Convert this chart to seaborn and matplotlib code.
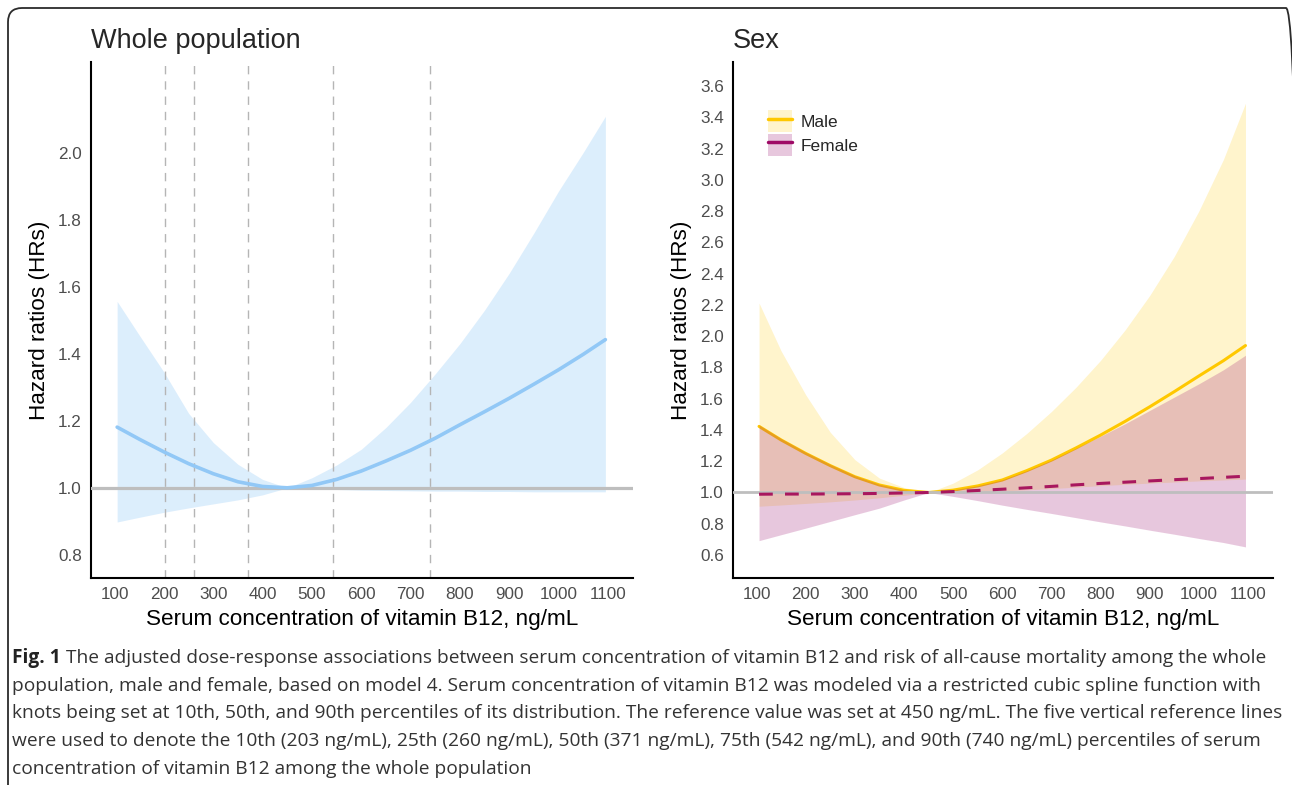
import numpy as np
import pandas as pd
import matplotlib
matplotlib.use("Agg")
import matplotlib.pyplot as plt
import seaborn as sns
from matplotlib.patches import Patch, FancyBboxPatch
from matplotlib.lines import Line2D
from matplotlib.transforms import IdentityTransform

# ----------------------------
# Data
# ----------------------------

b12 = [105, 150, 200, 250, 300, 350, 400, 450, 500, 550, 600,
       650, 700, 750, 800, 850, 900, 950, 1000, 1050, 1095]

# whole population
whole_hr = [1.181, 1.145, 1.107, 1.072, 1.042, 1.018, 1.004, 1.000, 1.007, 1.025, 1.050,
            1.080, 1.112, 1.148, 1.188, 1.227, 1.267, 1.309, 1.352, 1.398, 1.442]
whole_hi = [1.556, 1.455, 1.345, 1.222, 1.135, 1.070, 1.025, 1.000, 1.030, 1.068, 1.115,
            1.180, 1.255, 1.340, 1.430, 1.530, 1.640, 1.760, 1.885, 2.000, 2.108]
whole_lo = [0.898, 0.912, 0.927, 0.940, 0.952, 0.964, 0.979, 1.000, 0.997, 0.995, 0.993,
            0.992, 0.991, 0.990, 0.990, 0.989, 0.989, 0.988, 0.988, 0.988, 0.988]

# male
male_hr = [1.423, 1.336, 1.250, 1.172, 1.101, 1.048, 1.014, 1.000, 1.015, 1.042, 1.080,
           1.140, 1.207, 1.285, 1.367, 1.455, 1.548, 1.645, 1.745, 1.843, 1.940]
male_hi = [2.212, 1.905, 1.625, 1.385, 1.210, 1.092, 1.032, 1.000, 1.060, 1.145, 1.253,
           1.378, 1.518, 1.673, 1.845, 2.040, 2.260, 2.510, 2.800, 3.130, 3.490]
male_lo = [0.912, 0.920, 0.930, 0.940, 0.952, 0.966, 0.982, 1.000, 1.002, 1.005, 1.010,
           1.017, 1.025, 1.034, 1.044, 1.052, 1.060, 1.067, 1.074, 1.080, 1.086]

# female
female_hr = [0.989, 0.990, 0.990, 0.991, 0.992, 0.994, 0.997, 1.000, 1.006, 1.013, 1.021,
             1.030, 1.039, 1.049, 1.058, 1.066, 1.074, 1.082, 1.089, 1.097, 1.104]
female_hi = [1.432, 1.345, 1.258, 1.180, 1.108, 1.053, 1.017, 1.000, 1.017, 1.044, 1.082,
             1.140, 1.207, 1.283, 1.360, 1.440, 1.525, 1.610, 1.695, 1.785, 1.878]
female_lo = [0.692, 0.730, 0.772, 0.815, 0.858, 0.900, 0.952, 1.000, 0.975, 0.948, 0.919,
             0.892, 0.866, 0.839, 0.812, 0.786, 0.759, 0.733, 0.706, 0.680, 0.652]

percentiles = [203, 260, 371, 542, 740]
x_ticks = [100, 200, 300, 400, 500, 600, 700, 800, 900, 1000, 1100]
y_ticks_whole = [0.8, 1.0, 1.2, 1.4, 1.6, 1.8, 2.0]
y_ticks_sex = [0.6, 0.8, 1.0, 1.2, 1.4, 1.6, 1.8, 2.0, 2.2, 2.4, 2.6,
               2.8, 3.0, 3.2, 3.4, 3.6]

caption_lines = [
    " The adjusted dose-response associations between serum concentration of vitamin B12 and risk of all-cause mortality among the whole",
    "population, male and female, based on model 4. Serum concentration of vitamin B12 was modeled via a restricted cubic spline function with",
    "knots being set at 10th, 50th, and 90th percentiles of its distribution. The reference value was set at 450 ng/mL. The five vertical reference lines",
    "were used to denote the 10th (203 ng/mL), 25th (260 ng/mL), 50th (371 ng/mL), 75th (542 ng/mL), and 90th (740 ng/mL) percentiles of serum",
    "concentration of vitamin B12 among the whole population",
]

whole = pd.DataFrame({"b12": b12, "hr": whole_hr, "lo": whole_lo, "hi": whole_hi})
male = pd.DataFrame({"b12": b12, "hr": male_hr, "lo": male_lo, "hi": male_hi})
female = pd.DataFrame({"b12": b12, "hr": female_hr, "lo": female_lo, "hi": female_hi})

# ----------------------------
# Style
# ----------------------------

sns.set_style("white")
plt.rcParams["font.family"] = ["Liberation Sans", "DejaVu Sans"]

W, H = 1292, 785
fig = plt.figure(figsize=(W / 100, H / 100), dpi=100)

BLUE_LINE = "#92C8F6"
BLUE_FILL = "#9DCFF8"
GOLD = "#FFC800"
MAGENTA = "#A3237B"
FEMALE_LINE = "#A8175E"
REF_GREY = "#BEBEBE"


def style_axes(ax, yticks, ylim):
    ax.set_xlim(52, 1151)
    ax.set_ylim(*ylim)
    ax.set_xticks(x_ticks)
    ax.set_yticks(yticks)
    ax.set_yticklabels([f"{v:.1f}" for v in yticks])
    for side in ["top", "right"]:
        ax.spines[side].set_visible(False)
    for side in ["left", "bottom"]:
        ax.spines[side].set_linewidth(1.5)
        ax.spines[side].set_color("black")
    ax.tick_params(axis="both", direction="out", length=3.5, width=1.0,
                   color="#333333", labelsize=12.3, labelcolor="#4D4D4D", pad=3)
    ax.set_xlabel("Serum concentration of vitamin B12, ng/mL", fontsize=16.2,
                  color="black", labelpad=5)
    ax.set_ylabel("Hazard ratios (HRs)", fontsize=16.2, color="black", labelpad=6)
    ax.grid(False)


# ----------------------------
# Whole population
# ----------------------------

ax1 = fig.add_axes([91 / W, 1 - 578 / H, 542 / W, 516 / H])
ax1.fill_between(whole["b12"], whole["lo"], whole["hi"], color=BLUE_FILL,
                 alpha=0.35, linewidth=0, zorder=1)
for p in percentiles:
    ax1.axvline(p, color="#B5B5B5", linewidth=1.0, dashes=(6, 5), zorder=2)
ax1.axhline(1.0, color=REF_GREY, linewidth=2.3, zorder=3)
sns.lineplot(data=whole, x="b12", y="hr", ax=ax1, color=BLUE_LINE,
             linewidth=2.6, zorder=4)
style_axes(ax1, y_ticks_whole, (0.731, 2.27))
ax1.set_title("Whole population", loc="left", fontsize=19.5, pad=10)

# ----------------------------
# Sex
# ----------------------------

ax2 = fig.add_axes([733 / W, 1 - 578 / H, 540 / W, 516 / H])
ax2.fill_between(male["b12"], male["lo"], male["hi"], color=GOLD,
                 alpha=0.2, linewidth=0, zorder=1)
sns.lineplot(data=male, x="b12", y="hr", ax=ax2, color=GOLD,
             linewidth=2.2, zorder=2)
ax2.fill_between(female["b12"], female["lo"], female["hi"], color=MAGENTA,
                 alpha=0.25, linewidth=0, zorder=3)
ax2.axhline(1.0, color=REF_GREY, linewidth=2.0, zorder=4)
sns.lineplot(data=female, x="b12", y="hr", ax=ax2, color=FEMALE_LINE,
             linewidth=2.2, zorder=5)
ax2.lines[-1].set_dashes((4.5, 4))
style_axes(ax2, y_ticks_sex, (0.453, 3.754))
ax2.set_title("Sex", loc="left", fontsize=19.5, pad=10)

handles = [
    (Patch(facecolor=GOLD, alpha=0.2, edgecolor="none"),
     Line2D([0], [0], color=GOLD, linewidth=2.5)),
    (Patch(facecolor=MAGENTA, alpha=0.25, edgecolor="none"),
     Line2D([0], [0], color="#9E0A66", linewidth=2.5)),
]
ax2.legend(handles, ["Male", "Female"], loc="upper left",
           bbox_to_anchor=(0.042, 0.93), frameon=False, fontsize=12.5,
           handlelength=1.4, handleheight=1.55, handletextpad=0.5,
           labelspacing=0.12, borderpad=0.2)

# ----------------------------
# Border and caption
# ----------------------------

border = FancyBboxPatch((8, -40), 1292, 777 + 40, boxstyle="round,pad=0,rounding_size=14",
                        transform=IdentityTransform(), facecolor="none",
                        edgecolor="#2b2b2b", linewidth=1.3, zorder=0)
fig.patches.append(border)

cap_font = ["Open Sans", "DejaVu Sans"]
cap_y = [658, 686, 713.5, 741, 768.5]
renderer = fig.canvas.get_renderer()

# fit font size so the longest caption line spans the reference width
size = 13.0
for _ in range(3):
    t = fig.text(0, 0, caption_lines[2], fontsize=size, family=cap_font)
    w = t.get_window_extent(renderer).width
    t.remove()
    size = size * 1264 / w

x0 = 12
bold = fig.text(x0 / W, 1 - cap_y[0] / H, "Fig. 1", fontsize=size, fontweight="bold",
                family=cap_font, color="#222222", va="center", ha="left")
bw = bold.get_window_extent(renderer).width
fig.text((x0 + bw) / W, 1 - cap_y[0] / H, caption_lines[0], fontsize=size,
         family=cap_font, color="#333333", va="center", ha="left")
for line, y in zip(caption_lines[1:], cap_y[1:]):
    fig.text(x0 / W, 1 - y / H, line, fontsize=size, family=cap_font,
             color="#333333", va="center", ha="left")

fig.savefig("out.png", dpi=100)
plt.close()
